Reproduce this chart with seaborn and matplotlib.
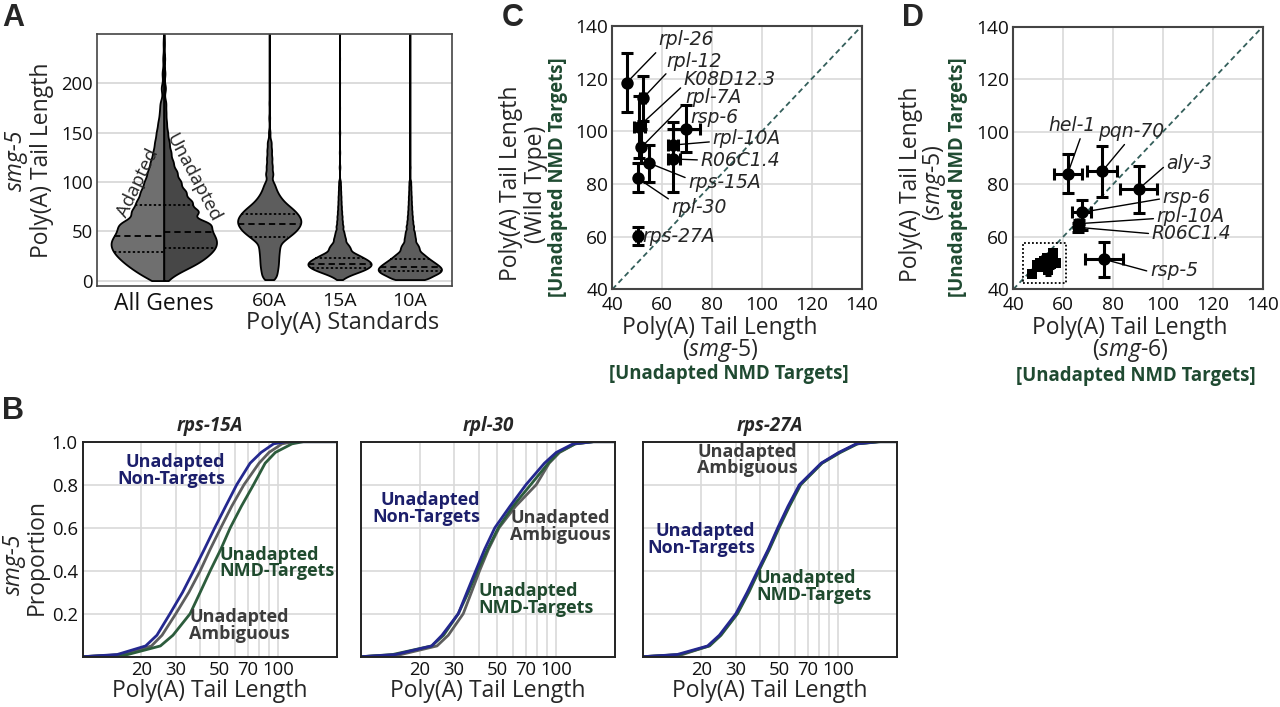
import numpy as np
import pandas as pd
import matplotlib
matplotlib.use("Agg")
import matplotlib.pyplot as plt
import seaborn as sns
from matplotlib.patches import Rectangle
from matplotlib.ticker import FixedLocator, NullFormatter, FixedFormatter

W, H = 1280, 707

ALL_POS = 0.0
ALL_KNOTS = [0, 5, 10, 15, 20, 25, 30, 35, 40, 45, 50, 55, 60, 70, 80, 90, 100, 110, 120,
             130, 140, 150, 160, 170, 180, 195, 210, 225, 240, 250]
ADAPTED_COUNTS = [24, 40, 54, 67, 78, 88, 95, 99, 100, 92, 85, 79, 110, 122, 100, 86, 72, 60, 50,
                  40, 34, 28, 22, 16, 15, 12, 8, 5, 3, 1]
UNADAPTED_COUNTS = [6, 18, 35, 56, 71, 83, 93, 99, 100, 96, 90, 83, 112, 128, 102, 80, 62, 48, 34,
                    26, 20, 14, 10, 8, 8, 7, 5, 4, 2, 1]
ADAPTED_Q = [28.5, 45.0, 76.5]
UNADAPTED_Q = [33.5, 49.5, 76.5]

STD_LABELS = ["60A", "15A", "10A"]
STD_POS = [1.5, 2.5, 3.5]
KNOTS_60A = [1, 5, 10, 15, 20, 25, 30, 35, 40, 44, 48, 52, 56, 60, 64, 68, 72, 76, 80, 84, 88, 92,
             96, 100, 108, 116, 124, 132, 140, 150, 165, 180, 200, 225, 250]
COUNTS_60A = [15, 28, 32, 35, 36, 37, 39, 41, 46, 58, 76, 88, 96, 100, 96, 87, 76, 60, 46, 36, 28, 22,
              18, 15, 22, 18, 16, 14, 12, 5, 3, 2, 1, 1, 1]
KNOTS_SHORT = [1, 3, 5, 7, 9, 11, 13, 15, 17, 19, 21, 23, 25, 27, 29, 32, 35, 38, 42, 46, 50,
               55, 60, 65, 70, 75, 80, 85, 90, 95, 100, 115, 130, 150, 175, 200, 225, 250]
COUNTS_15A = [8, 17, 28, 45, 63, 78, 90, 98, 100, 95, 86, 75, 63, 52, 42, 54, 44, 36, 38, 30, 27,
              26, 21, 19, 16, 14, 12, 11, 9, 8, 7, 3, 2, 2, 1, 1, 1, 1]
COUNTS_10A = [70, 55, 72, 88, 97, 100, 98, 90, 82, 73, 64, 56, 48, 42, 37, 46, 40, 33, 36, 30, 29,
              28, 22, 19, 16, 14, 12, 11, 9, 8, 7, 3, 2, 2, 1, 1, 1, 1]
STD_Q = [[44.0, 57.5, 67.5], [12.5, 17.0, 23.2], [9.3, 14.2, 21.8]]
STD_BW = [3.5, 2.2, 2.2]
ALL_BW = 5.0

# ---------------- B: cumulative proportions (tail length at each proportion level)
B_GENES = ["rps-15A", "rpl-30", "rps-27A"]
P_LEVELS = [0.0, 0.01, 0.05, 0.1, 0.2, 0.3, 0.4, 0.5, 0.6, 0.7, 0.8, 0.9, 0.95, 0.99, 1.0, 1.0]
B_NONTARGET = [
    [10, 15, 21, 24, 28, 32.5, 37, 42, 47.5, 54, 61.5, 72, 82, 95, 110, 200],
    [10, 15, 23, 26, 31.5, 34.9, 38.7, 43, 48.5, 58, 70, 87, 100, 122, 155, 200],
    [10, 15, 21.5, 24.7, 30, 34.3, 38.8, 44, 49.2, 55.5, 63.5, 82, 101, 124, 160, 200],
]
B_NMD = [
    [10, 17, 25, 29, 35.5, 40, 45, 51, 57, 65, 75, 86, 97, 118, 135, 200],
    [10, 14.5, 23, 26.5, 31.5, 35.5, 39.5, 44.5, 50.5, 60, 74, 91, 103, 125, 155, 200],
    [10, 15.5, 22, 25.2, 30.6, 35, 39.4, 44.6, 50, 56.5, 64.5, 83, 103, 126, 165, 200],
]
B_AMBIG = [
    [10, 16, 22.5, 25.5, 30, 35, 40, 45, 51, 58, 67, 80, 90, 105, 120, 200],
    [10, 16, 24.5, 28, 33.4, 36.8, 40.5, 45, 51, 62, 79, 92, 104, 125, 155, 200],
    [10, 16, 21.8, 25, 30.4, 34.7, 39.2, 44.3, 49.6, 56, 64, 82.5, 102, 125, 162, 200],
]

# ---------------- C: smg-5 vs wild type, unadapted NMD targets
C_GENES = ["rpl-26", "rpl-12", "K08D12.3", "rpl-7A", "rsp-6", "rpl-10A", "R06C1.4", "rps-15A",
           "rpl-30", "rps-27A"]
C_X = [45.8, 52.2, 50.6, 51.7, 69.5, 64.5, 64.5, 54.6, 50.2, 50.2]
C_Y = [118.5, 112.5, 101.8, 94.0, 100.8, 94.8, 89.5, 88.0, 82.2, 60.2]
C_X_LO = [45.8, 51.2, 48.9, 51.7, 64.5, 62.5, 62.3, 54.6, 50.2, 49.4]
C_X_HI = [45.8, 53.2, 53.0, 51.7, 75.0, 66.5, 67.0, 54.6, 50.2, 51.0]
C_Y_LO = [107.5, 104.0, 90.0, 88.0, 92.0, 89.0, 77.0, 80.8, 76.8, 56.8]
C_Y_HI = [129.8, 121.2, 113.6, 101.0, 110.0, 101.0, 103.5, 94.8, 87.9, 63.5]
C_TEXT_X = [58.4, 61.8, 68.7, 69.1, 71.4, 80.2, 75.4, 70.5, 63.8, 52.2]
C_TEXT_Y = [134.7, 126.7, 119.5, 112.9, 105.3, 97.3, 89.1, 80.5, 71.0, 60.0]
C_RELPOS = [(0.06, 0.14), (0.14, 0.3), (0.02, 0.33), (0.03, 0.29), None, (0.0, 0.33),
            (0.0, 0.5), (0.02, 0.67), (0.09, 0.67), None]

# ---------------- D: smg-6 vs smg-5
D_GENES = ["hel-1", "pqn-70", "aly-3", "rsp-6", "rpl-10A", "R06C1.4", "rsp-5"]
D_X = [61.8, 75.7, 90.3, 67.4, 66.4, 65.8, 76.5]
D_Y = [84.0, 85.0, 78.2, 69.3, 65.0, 63.6, 51.4]
D_X_LO = [56.3, 69.7, 82.8, 63.7, 65.0, 64.3, 68.7]
D_X_HI = [67.7, 81.7, 97.5, 71.0, 67.8, 67.3, 84.1]
D_Y_LO = [76.5, 75.0, 69.2, 62.6, 63.5, 61.8, 44.8]
D_Y_HI = [91.5, 94.7, 87.0, 74.0, 66.5, 65.4, 57.9]
D_TEXT_X = [54.0, 74.1, 101.5, 99.9, 97.5, 95.5, 94.8]
D_TEXT_Y = [102.2, 100.0, 88.0, 75.0, 67.7, 61.3, 47.1]
D_RELPOS = [(0.7, 0.0), (0.46, 0.1), (0.0, 0.43), (0.0, 0.44), (0.0, 0.4), (0.0, 0.48), (0.0, 0.44)]
CLUSTER_X = [47.4, 49.5, 50.7, 51.5, 52.3, 53.4, 54.0, 55.2, 56.0, 57.3]
CLUSTER_Y = [46.0, 49.4, 50.0, 48.5, 50.8, 51.9, 47.5, 49.8, 53.8, 50.0]
CLUSTER_XERR = [0.6, 1.2, 1.5, 1.0, 1.5, 1.2, 1.0, 1.5, 0.8, 0.8]
CLUSTER_YERR = [0.6, 1.5, 1.5, 1.2, 2.0, 1.5, 2.2, 1.5, 1.0, 1.0]

# ---------------- style
ADAPTED_COLOR = "#6f6f6f"
UNADAPTED_COLOR = "#474747"
STD_COLOR = "#5d5d5d"
BLUE_LINE, BLUE_TXT = "#24288f", "#1c1f6b"
GREEN_LINE, GREEN_TXT = "#2c5c3c", "#1f4a2e"
GRAY_LINE, GRAY_TXT = "#5e5e5e", "#3c3c3c"
NMD_GREEN = "#1f4a31"
GRID = "#d9d9d9"
DIAG = "#345f5b"
LABEL_FS = 16.5

sns.set_theme(style="white")
plt.rcParams["font.family"] = ["Open Sans", "DejaVu Sans"]
plt.rcParams["mathtext.fontset"] = "custom"
plt.rcParams["mathtext.it"] = "Open Sans:italic"
plt.rcParams["mathtext.rm"] = "Open Sans"

fig = plt.figure(figsize=(W / 100, H / 100), dpi=100)


def box(l, t, r, b):
    return [l / W, 1 - b / H, (r - l) / W, (b - t) / H]


def ftext(x, y, s, **kw):
    kw.setdefault("ha", "center")
    kw.setdefault("va", "center")
    return fig.text(x / W, 1 - y / H, s, **kw)


def span_at(coll, y0):
    v = coll.get_paths()[0].vertices
    x1, y1, x2, y2 = v[:-1, 0], v[:-1, 1], v[1:, 0], v[1:, 1]
    m = ((y1 - y0) * (y2 - y0) <= 0) & (y1 != y2)
    xs = x1[m] + (y0 - y1[m]) * (x2[m] - x1[m]) / (y2[m] - y1[m])
    return xs.min(), xs.max()


QUART_STYLES = [(0, (1.3, 1.3)), (0, (3.5, 2.2)), (0, (1.3, 1.3))]


def draw_quartiles(ax, coll, qs):
    for q, ls in zip(qs, QUART_STYLES):
        x0, x1 = span_at(coll, q)
        ax.plot([x0, x1], [q, q], color="black", lw=1.3, linestyle=ls, zorder=5)


# ================= Panel A
axA = fig.add_axes(box(97, 34, 452, 286))
all_df = pd.DataFrame({
    "length": np.concatenate([np.repeat(ALL_KNOTS, ADAPTED_COUNTS),
                              np.repeat(ALL_KNOTS, UNADAPTED_COUNTS)]),
    "group": ["Adapted"] * sum(ADAPTED_COUNTS) + ["Unadapted"] * sum(UNADAPTED_COUNTS),
})
all_df["pos"] = ALL_POS
n0 = len(axA.collections)
sns.violinplot(data=all_df, x="pos", y="length", hue="group", hue_order=["Adapted", "Unadapted"],
               split=True, native_scale=True, orient="x",
               palette=[ADAPTED_COLOR, UNADAPTED_COLOR], width=1.5, cut=0, inner=None,
               density_norm="width", bw_method=ALL_BW / all_df["length"].std(), gridsize=500,
               saturation=1, linecolor="black", linewidth=1.3, legend=False, ax=axA)
for coll in axA.collections[n0:]:
    xc = coll.get_paths()[0].vertices[:, 0].mean()
    draw_quartiles(axA, coll, ADAPTED_Q if xc < ALL_POS else UNADAPTED_Q)

for pos, knots, counts, bw, qs in zip(STD_POS, [KNOTS_60A, KNOTS_SHORT, KNOTS_SHORT],
                                      [COUNTS_60A, COUNTS_15A, COUNTS_10A], STD_BW, STD_Q):
    d = pd.DataFrame({"length": np.repeat(knots, counts)})
    d["pos"] = pos
    n0 = len(axA.collections)
    sns.violinplot(data=d, x="pos", y="length", native_scale=True, orient="x", color=STD_COLOR,
                   width=0.9, cut=0, inner=None, density_norm="width",
                   bw_method=bw / d["length"].std(), gridsize=500, saturation=1,
                   linecolor="black", linewidth=1.3, ax=axA)
    draw_quartiles(axA, axA.collections[n0], qs)

axA.set_xlim(-0.95, 4.1)
axA.set_ylim(-5.5, 250)
axA.set_xticks([ALL_POS] + STD_POS)
axA.set_xticklabels(["All Genes"] + STD_LABELS)
axA.get_xticklabels()[0].set_fontsize(16.5)
for lab in axA.get_xticklabels()[1:]:
    lab.set_fontsize(14)
axA.set_yticks([0, 50, 100, 150, 200])
axA.tick_params(axis="y", length=0, labelsize=13.3, pad=3, colors="#111111")
axA.tick_params(axis="x", length=0, pad=4, colors="#111111")
axA.yaxis.grid(True, color=GRID, lw=1.3)
axA.xaxis.grid(False)
axA.set_axisbelow(True)
axA.set_xlabel("")
axA.set_ylabel("")
for s in axA.spines.values():
    s.set_color("#444444")
    s.set_linewidth(1.2)

ftext(138, 183, "Adapted", rotation=64, fontsize=13.5)
ftext(193, 178, "Unadapted", rotation=-62, fontsize=13.5)
ftext(343, 323, "Poly(A) Standards", fontsize=17)
ftext(16, 160, "smg-5", rotation=90, fontsize=LABEL_FS, fontstyle="italic")
ftext(42, 160, "Poly(A) Tail Length", rotation=90, fontsize=LABEL_FS)

# ================= Panel B
B_LEFTS = [82.7, 361, 642.7]
B_NON_POS = [(0.56, 0.868), (0.469, 0.69), (0.442, 0.547)]
B_NMD_POS = [(0.537, 0.436), (0.461, 0.264), (0.449, 0.326)]
B_AMB_POS = [(0.616, 0.147), (0.783, 0.605), (0.413, 0.915)]
lab_kw = dict(fontsize=13, fontweight="bold", va="center", linespacing=0.92)
for i, left in enumerate(B_LEFTS):
    ax = fig.add_axes(box(left, 441.7, left + 254, 656.7))
    ax.set_xscale("log")
    for xs, col in ((B_AMBIG[i], GRAY_LINE), (B_NMD[i], GREEN_LINE), (B_NONTARGET[i], BLUE_LINE)):
        sns.lineplot(x=xs, y=P_LEVELS, color=col, lw=2, estimator=None, sort=False,
                     errorbar=None, ax=ax)
    ax.set_xlim(10, 200)
    ax.set_ylim(0, 1.0)
    ax.xaxis.set_major_locator(FixedLocator([20, 30, 50, 70, 100]))
    ax.xaxis.set_major_formatter(FixedFormatter(["20", "30", "50", "70", "100"]))
    ax.xaxis.set_minor_locator(FixedLocator([40, 60, 80, 90]))
    ax.xaxis.set_minor_formatter(NullFormatter())
    ax.set_yticks([0.2, 0.4, 0.6, 0.8, 1.0])
    ax.grid(True, which="both", color=GRID, lw=1.2)
    ax.set_axisbelow(True)
    ax.tick_params(which="both", length=0, labelsize=13.3, colors="#111111")
    ax.tick_params(axis="x", pad=3)
    if i == 0:
        ax.set_yticklabels(["0.2", "0.4", "0.6", "0.8", "1.0"])
    else:
        ax.set_yticklabels([])
    ax.set_ylabel("")
    ax.set_xlabel("Poly(A) Tail Length", fontsize=LABEL_FS, labelpad=0)
    ax.set_title(B_GENES[i], fontsize=13.5, fontweight="bold", fontstyle="italic", pad=8)
    for s in ax.spines.values():
        s.set_color("#222222")
        s.set_linewidth(1.4)
    ax.text(*B_NON_POS[i], "Unadapted\nNon-Targets", color=BLUE_TXT, ha="right",
            multialignment="right", transform=ax.transAxes, **lab_kw)
    ax.text(*B_NMD_POS[i], "Unadapted\nNMD-Targets", color=GREEN_TXT, ha="left",
            multialignment="left", transform=ax.transAxes, **lab_kw)
    ax.text(*B_AMB_POS[i], "Unadapted\nAmbiguous", color=GRAY_TXT, ha="center",
            multialignment="center", transform=ax.transAxes, **lab_kw)

ftext(13.5, 564, "smg-5", rotation=90, fontsize=LABEL_FS, fontstyle="italic")
ftext(37, 557, "Proportion", rotation=90, fontsize=LABEL_FS)


# ================= Panels C and D
def scatter_panel(ax, xs, ys, xlo, xhi, ylo, yhi):
    xerr = [np.subtract(xs, xlo), np.subtract(xhi, xs)]
    yerr = [np.subtract(ys, ylo), np.subtract(yhi, ys)]
    ax.errorbar(xs, ys, xerr=xerr, yerr=yerr, fmt="none", ecolor="black", elinewidth=2.2,
                capsize=4, capthick=2.2, zorder=3)
    sns.scatterplot(x=xs, y=ys, color="black", s=80, linewidth=0, zorder=4, ax=ax)


def style_scatter_axes(ax):
    ax.axline((0, 0), slope=1, color=DIAG, lw=1.3, linestyle=(0, (3, 2)), zorder=2)
    ax.set_xlim(40, 140)
    ax.set_ylim(40, 140)
    ticks = [40, 60, 80, 100, 120, 140]
    ax.set_xticks(ticks)
    ax.set_yticks(ticks)
    ax.grid(True, color=GRID, lw=1.2)
    ax.set_axisbelow(True)
    ax.tick_params(length=0, labelsize=13.8, colors="#111111")
    ax.tick_params(axis="x", pad=5)
    ax.tick_params(axis="y", pad=3)
    for s in ax.spines.values():
        s.set_color("#444444")
        s.set_linewidth(1.5)


def label_genes(ax, genes, xs, ys, tx, ty, relpos):
    for g, x, y, a, b, rp in zip(genes, xs, ys, tx, ty, relpos):
        kw = dict(fontsize=13.5, fontstyle="italic", family="DejaVu Sans", ha="left",
                  va="center", zorder=6)
        if rp is None:
            ax.text(a, b, g, **kw)
        else:
            ax.annotate(g, xy=(x, y), xytext=(a, b), textcoords="data",
                        arrowprops=dict(arrowstyle="-", color="black", lw=1.0, relpos=rp,
                                        shrinkA=0, shrinkB=4), **kw)


axC = fig.add_axes(box(612.3, 26, 861.7, 289.3))
scatter_panel(axC, C_X, C_Y, C_X_LO, C_X_HI, C_Y_LO, C_Y_HI)
style_scatter_axes(axC)
label_genes(axC, C_GENES, C_X, C_Y, C_TEXT_X, C_TEXT_Y, C_RELPOS)

axD = fig.add_axes(box(1013.3, 26.7, 1262.7, 289.3))
scatter_panel(axD, D_X, D_Y, D_X_LO, D_X_HI, D_Y_LO, D_Y_HI)
axD.errorbar(CLUSTER_X, CLUSTER_Y, xerr=CLUSTER_XERR, yerr=CLUSTER_YERR, fmt="none",
             ecolor="black", elinewidth=2.2, capsize=2.5, capthick=2.2, zorder=3)
sns.scatterplot(x=CLUSTER_X, y=CLUSTER_Y, color="black", marker="s", s=60, linewidth=0,
                zorder=4, ax=axD)
style_scatter_axes(axD)
label_genes(axD, D_GENES, D_X, D_Y, D_TEXT_X, D_TEXT_Y, D_RELPOS)
pad = 3.0
bx0 = min(np.subtract(CLUSTER_X, CLUSTER_XERR)) - pad
bx1 = max(np.add(CLUSTER_X, CLUSTER_XERR)) + pad
by0 = min(np.subtract(CLUSTER_Y, CLUSTER_YERR)) - pad
by1 = max(np.add(CLUSTER_Y, CLUSTER_YERR)) + pad
axD.add_patch(Rectangle((bx0, by0), bx1 - bx0, by1 - by0, fill=False, edgecolor="black",
                        lw=1.3, linestyle=(0, (1, 1.2)), zorder=5))

nmd_kw = dict(fontsize=13.4, fontweight="bold", color=NMD_GREEN)
ftext(511, 183, "Poly(A) Tail Length", rotation=90, fontsize=LABEL_FS)
ftext(536, 184, "(Wild Type)", rotation=90, fontsize=LABEL_FS)
ftext(558, 177, "[Unadapted NMD Targets]", rotation=90, **nmd_kw)
ftext(720, 340, "Poly(A) Tail Length\n" + r"($\mathit{smg}$-$\mathit{5}$)",
      fontsize=LABEL_FS, linespacing=0.85)
ftext(729, 374, "[Unadapted NMD Targets]", **nmd_kw)
ftext(911, 184, "Poly(A) Tail Length", rotation=90, fontsize=LABEL_FS)
ftext(934, 183, r"($\mathit{smg}$-$\mathit{5}$)", rotation=90, fontsize=LABEL_FS)
ftext(958, 177, "[Unadapted NMD Targets]", rotation=90, **nmd_kw)
ftext(1130, 340, "Poly(A) Tail Length\n" + r"($\mathit{smg}$-$\mathit{6}$)",
      fontsize=LABEL_FS, linespacing=0.85)
ftext(1136, 376, "[Unadapted NMD Targets]", **nmd_kw)

letter_kw = dict(fontsize=22, fontweight="bold", family="Liberation Sans")
ftext(13, 18, "A", **letter_kw)
ftext(13, 411, "B", **letter_kw)
ftext(513, 18, "C", **letter_kw)
ftext(913, 18, "D", **letter_kw)

fig.savefig("out.png", dpi=100)
